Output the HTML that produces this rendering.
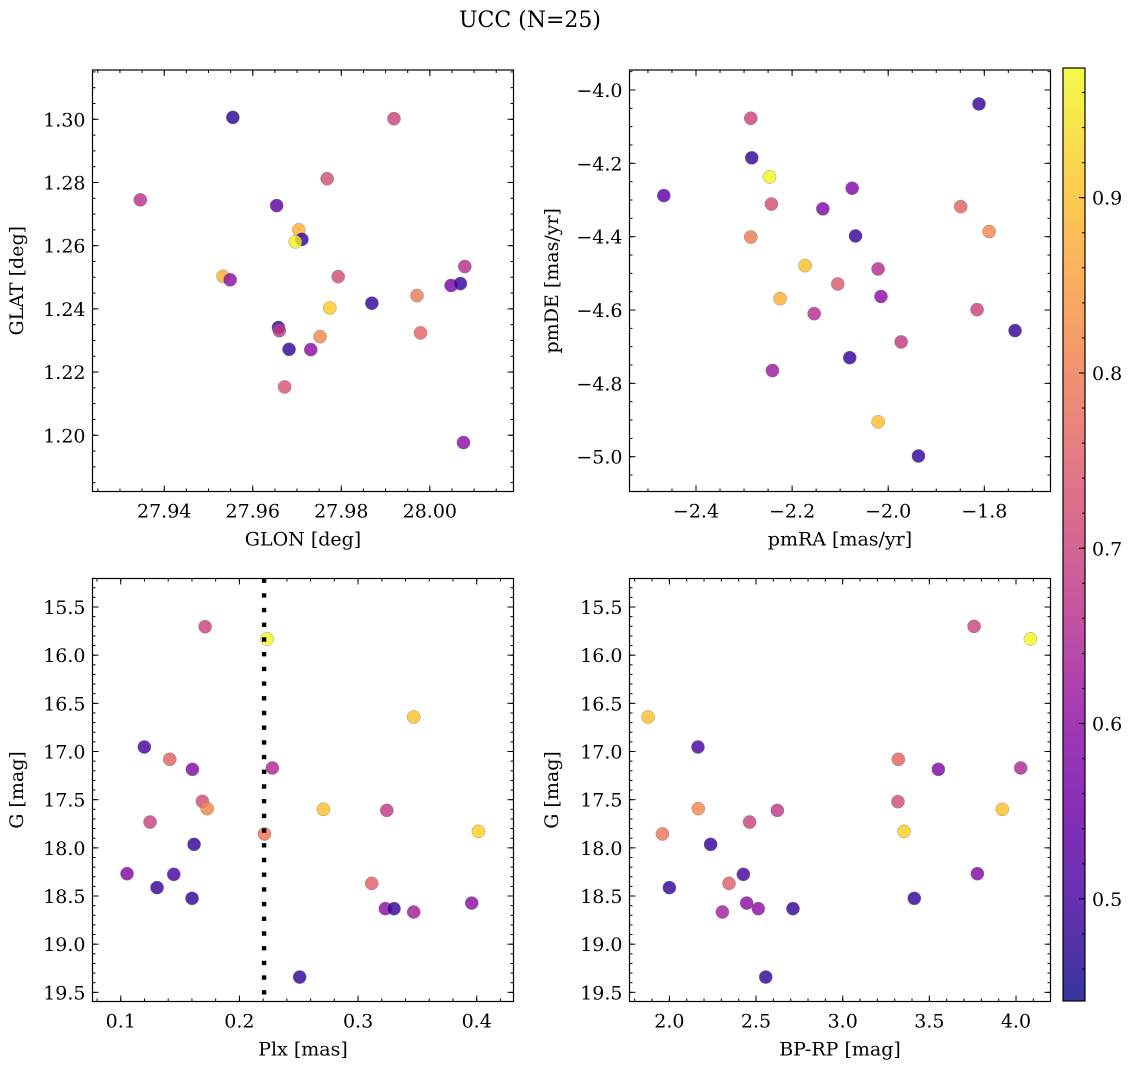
<!DOCTYPE html>
<html>
<head>
<meta charset="utf-8">
<style>
  html,body{margin:0;padding:0;background:#fff;}
  svg{display:block;}
  text{font-family:"DejaVu Serif","Liberation Serif",serif;fill:#000;}
</style>
</head>
<body>
<svg id="fig" width="1136" height="1068" viewBox="0 0 1136 1068" xmlns="http://www.w3.org/2000/svg">
  <text x="530" y="27" font-size="22" text-anchor="middle">UCC (N=25)</text>
</svg>
<script>
// ---- Panel 1: GLON / GLAT ----
const glon = [27.9555,27.9919,27.9346,27.9768,27.9654,27.9704,27.9711,27.9696,27.9533,27.9549,27.9793,27.9774,27.9869,27.9971,28.0048,28.0069,28.0079,27.9979,27.9658,27.9660,27.9752,27.9682,27.9731,27.9672,28.0076];
const glat = [1.3006,1.3002,1.2745,1.2812,1.2727,1.2650,1.2620,1.2612,1.2503,1.2492,1.2502,1.2403,1.2418,1.2442,1.2474,1.2480,1.2534,1.2324,1.2341,1.2331,1.2312,1.2272,1.2271,1.2153,1.1977];
const prob1 = [0.47,0.70,0.67,0.72,0.53,0.88,0.48,0.96,0.88,0.60,0.72,0.92,0.48,0.80,0.57,0.48,0.66,0.76,0.48,0.68,0.82,0.48,0.60,0.73,0.60];
// ---- Panel 2: pmRA / pmDE ----
const pmra = [-1.811,-2.286,-2.284,-2.247,-2.467,-2.075,-2.243,-2.136,-1.849,-1.790,-2.286,-2.068,-2.173,-2.021,-2.105,-2.225,-2.015,-2.154,-1.815,-1.736,-1.973,-2.080,-2.241,-2.021,-1.937];
const pmde = [-4.038,-4.077,-4.185,-4.237,-4.288,-4.268,-4.311,-4.324,-4.318,-4.386,-4.401,-4.398,-4.479,-4.488,-4.529,-4.569,-4.563,-4.610,-4.599,-4.656,-4.687,-4.730,-4.765,-4.905,-4.998];
const prob2 = [0.48,0.70,0.48,0.97,0.53,0.58,0.72,0.58,0.76,0.82,0.80,0.48,0.90,0.66,0.74,0.88,0.60,0.66,0.70,0.48,0.68,0.48,0.62,0.90,0.48];
// ---- Panel 3: Plx / G ----
const plx = [0.1711,0.2233,0.3469,0.1199,0.1413,0.1604,0.2278,0.1688,0.1728,0.2708,0.3242,0.1247,0.4014,0.2211,0.1618,0.1053,0.1447,0.1306,0.3115,0.1601,0.3230,0.3303,0.3469,0.3958,0.2508];
const gmag3 = [15.704,15.832,16.642,16.953,17.081,17.185,17.171,17.517,17.593,17.600,17.611,17.732,17.829,17.856,17.964,18.268,18.275,18.413,18.369,18.524,18.631,18.631,18.666,18.573,19.341];
const prob3 = [0.70,0.97,0.90,0.50,0.76,0.58,0.65,0.72,0.82,0.90,0.68,0.70,0.92,0.79,0.48,0.58,0.50,0.48,0.75,0.48,0.60,0.48,0.63,0.60,0.48];
const plxLine = [0.2208];
// ---- Panel 4: BP-RP / G ----
const bprp = [1.877,3.758,4.083,2.165,3.321,3.552,4.027,3.319,2.167,3.921,2.623,2.463,3.354,1.960,2.238,3.777,2.427,2.000,2.344,3.413,2.513,2.713,2.306,2.446,2.556];
const gmag4 = [16.642,15.701,15.832,16.953,17.081,17.185,17.171,17.521,17.593,17.600,17.611,17.732,17.829,17.856,17.964,18.268,18.275,18.413,18.369,18.524,18.631,18.631,18.666,18.573,19.341];
const prob4 = [0.90,0.70,0.97,0.50,0.76,0.58,0.65,0.72,0.82,0.90,0.68,0.70,0.92,0.79,0.48,0.58,0.50,0.48,0.75,0.48,0.60,0.48,0.63,0.60,0.48];
// ---- Tick labels ----
const xTicks1 = [27.94,27.96,27.98,28.00];
const xLabels1 = ["27.94","27.96","27.98","28.00"];
const yTicks1 = [1.20,1.22,1.24,1.26,1.28,1.30];
const yLabels1 = ["1.20","1.22","1.24","1.26","1.28","1.30"];
const xTicks2 = [-2.4,-2.2,-2.0,-1.8];
const xLabels2 = ["\u22122.4","\u22122.2","\u22122.0","\u22121.8"];
const yTicks2 = [-4.0,-4.2,-4.4,-4.6,-4.8,-5.0];
const yLabels2 = ["\u22124.0","\u22124.2","\u22124.4","\u22124.6","\u22124.8","\u22125.0"];
const xTicks3 = [0.1,0.2,0.3,0.4];
const xLabels3 = ["0.1","0.2","0.3","0.4"];
const gTicks = [15.5,16.0,16.5,17.0,17.5,18.0,18.5,19.0,19.5];
const gLabels = ["15.5","16.0","16.5","17.0","17.5","18.0","18.5","19.0","19.5"];
const xTicks4 = [2.0,2.5,3.0,3.5,4.0];
const xLabels4 = ["2.0","2.5","3.0","3.5","4.0"];
const cbTicks = [0.5,0.6,0.7,0.8,0.9];
const cbLabels = ["0.5","0.6","0.7","0.8","0.9"];
const cMin = 0.4417, cMax = 0.974;

const FS = 19;
const NS = "http://www.w3.org/2000/svg";
const svg = document.getElementById('fig');
function mk(tag, attrs, parent){
  const e = document.createElementNS(NS, tag);
  for (const k in attrs) e.setAttribute(k, attrs[k]);
  (parent||svg).appendChild(e);
  return e;
}
const stops = ["#0d0887","#41049d","#6a00a8","#8f0da4","#b12a90","#cc4778","#e16462","#f2844b","#fca636","#fcce25","#f0f921"];
function hex(h){return [parseInt(h.slice(1,3),16),parseInt(h.slice(3,5),16),parseInt(h.slice(5,7),16)];}
function plasma(t){
  t=Math.max(0,Math.min(1,t));
  const f=t*10, i=Math.min(9,Math.floor(f)), r=f-i;
  const a=hex(stops[i]), b=hex(stops[i+1]);
  return 'rgb('+a.map((v,k)=>Math.round(v+(b[k]-v)*r)).join(',')+')';
}
function cnorm(p){return (p-cMin)/(cMax-cMin);}

function scale(d0,d1,r0,r1){return v=>r0+(v-d0)/(d1-d0)*(r1-r0);}

function panel(o){
  const g = mk('g',{});
  
  
  const L=o.box[0],R=o.box[1],T=o.box[2],B=o.box[3];
  const sx = scale(o.xd[0],o.xd[1],L,R);
  const sy = scale(o.yd[0],o.yd[1],B,T);
  const pg = mk('g',{},g);
  
  
  for (let i=0;i<o.xs.length;i++){
    const c = mk('circle',{cx:sx(o.xs[i]),cy:sy(o.ys[i]),r:6.6,fill:plasma(cnorm(o.cs[i])),'fill-opacity':0.82,stroke:'#777','stroke-width':0.5,'stroke-opacity':0.7},pg);
    
    
  }
  if (o.vline){
    for (const v of o.vline){
      const ln = mk('line',{x1:sx(v),x2:sx(v),y1:T,y2:B,stroke:'#000','stroke-width':4.4,'stroke-dasharray':'4.4 10.3'},g);
      
      
    }
  }
  const tg = mk('g',{stroke:'#000','stroke-width':1},g);
  function minorRange(d,step){
    const lo=Math.min(d[0],d[1]), hi=Math.max(d[0],d[1]);
    const out=[]; for(let v=Math.ceil(lo/step-1e-9)*step; v<=hi+1e-9; v+=step) out.push(v); return out;
  }
  for (const v of minorRange(o.xd,o.xminor)){
    const x=sx(v); mk('line',{x1:x,x2:x,y1:B,y2:B-3},tg); mk('line',{x1:x,x2:x,y1:T,y2:T+3},tg);
  }
  for (const v of minorRange(o.yd,o.yminor)){
    const y=sy(v); mk('line',{x1:L,x2:L+3,y1:y,y2:y},tg); mk('line',{x1:R,x2:R-3,y1:y,y2:y},tg);
  }
  o.xt.forEach((v,i)=>{
    const x=sx(v); mk('line',{x1:x,x2:x,y1:B,y2:B-6},tg); mk('line',{x1:x,x2:x,y1:T,y2:T+6},tg);
    const t=mk('text',{x:x,y:B+26,'font-size':FS,'text-anchor':'middle'},g); t.textContent=o.xl[i];
    
    
  });
  o.yt.forEach((v,i)=>{
    const y=sy(v); mk('line',{x1:L,x2:L+6,y1:y,y2:y},tg); mk('line',{x1:R,x2:R-6,y1:y,y2:y},tg);
    const t=mk('text',{x:L-7,y:y+7,'font-size':FS,'text-anchor':'end'},g); t.textContent=o.yl[i];
    
    
  });
  const fr = mk('rect',{x:L,y:T,width:R-L,height:B-T,fill:'none',stroke:'#000','stroke-width':1.2},g);
  
  
  const xt = mk('text',{x:(L+R)/2,y:B+54,'font-size':FS,'text-anchor':'middle'},g);
  xt.textContent=o.xlabel;
  
  
  const yx=o.ylx, yy=(T+B)/2;
  const yt = mk('text',{x:yx,y:yy,'font-size':FS,'text-anchor':'middle',transform:'rotate(-90 '+yx+' '+yy+')'},g);
  yt.textContent=o.ylabel;
  
  
}

panel({name:'glon-glat-panel',box:[92.5,513.5,70,491.5],xd:[27.9238,28.0189],yd:[1.1822,1.3156],
  xs:glon,ys:glat,cs:prob1,xt:xTicks1,xl:xLabels1,yt:yTicks1,yl:yLabels1,xminor:0.005,yminor:0.005,
  xlabel:'GLON [deg]',ylabel:'GLAT [deg]',ylx:23});
panel({name:'pm-panel',box:[629.5,1050.5,70,491.5],xd:[-2.5384,-1.6622],yd:[-5.0949,-3.9455],
  xs:pmra,ys:pmde,cs:prob2,xt:xTicks2,xl:xLabels2,yt:yTicks2,yl:yLabels2,xminor:0.05,yminor:0.05,
  xlabel:'pmRA [mas/yr]',ylabel:'pmDE [mas/yr]',ylx:558});
panel({name:'plx-g-panel',box:[92.5,513.5,578.5,1001.5],xd:[0.0762,0.4310],yd:[19.595,15.204],
  xs:plx,ys:gmag3,cs:prob3,xt:xTicks3,xl:xLabels3,yt:gTicks,yl:gLabels,xminor:0.02,yminor:0.1,
  xlabel:'Plx [mas]',ylabel:'G [mag]',ylx:23,vline:plxLine});
panel({name:'cmd-panel',box:[629.5,1050.5,578.5,1001.5],xd:[1.770,4.199],yd:[19.595,15.204],
  xs:bprp,ys:gmag4,cs:prob4,xt:xTicks4,xl:xLabels4,yt:gTicks,yl:gLabels,xminor:0.1,yminor:0.1,
  xlabel:'BP-RP [mag]',ylabel:'G [mag]',ylx:558});

(function(){
  const L=1063,R=1085,T=68,B=1001;
  const g = mk('g',{});
  
  
  const defs = mk('defs',{},g);
  const lg = mk('linearGradient',{id:'cbgrad',x1:0,y1:1,x2:0,y2:0},defs);
  for (let i=0;i<=20;i++){
    const t=i/20, p=cMin+t*(cMax-cMin);
    mk('stop',{offset:t,'stop-color':plasma(cnorm(p)),'stop-opacity':0.82},lg);
  }
  mk('rect',{x:L,y:T,width:R-L,height:B-T,fill:'url(#cbgrad)',stroke:'#000','stroke-width':1.2},g);
  const sy = scale(cMin,cMax,B,T);
  for (let v=0.46; v<=cMax; v+=0.02){
    const y=sy(v); mk('line',{x1:R,x2:R-3,y1:y,y2:y,stroke:'#000','stroke-width':1},g);
  }
  cbTicks.forEach((v,i)=>{
    const y=sy(v);
    mk('line',{x1:R,x2:R-6,y1:y,y2:y,stroke:'#000','stroke-width':1},g);
    const t=mk('text',{x:R+7,y:y+7,'font-size':FS},g); t.textContent=cbLabels[i];
    
    
  });
})();
</script>
</body>
</html>
